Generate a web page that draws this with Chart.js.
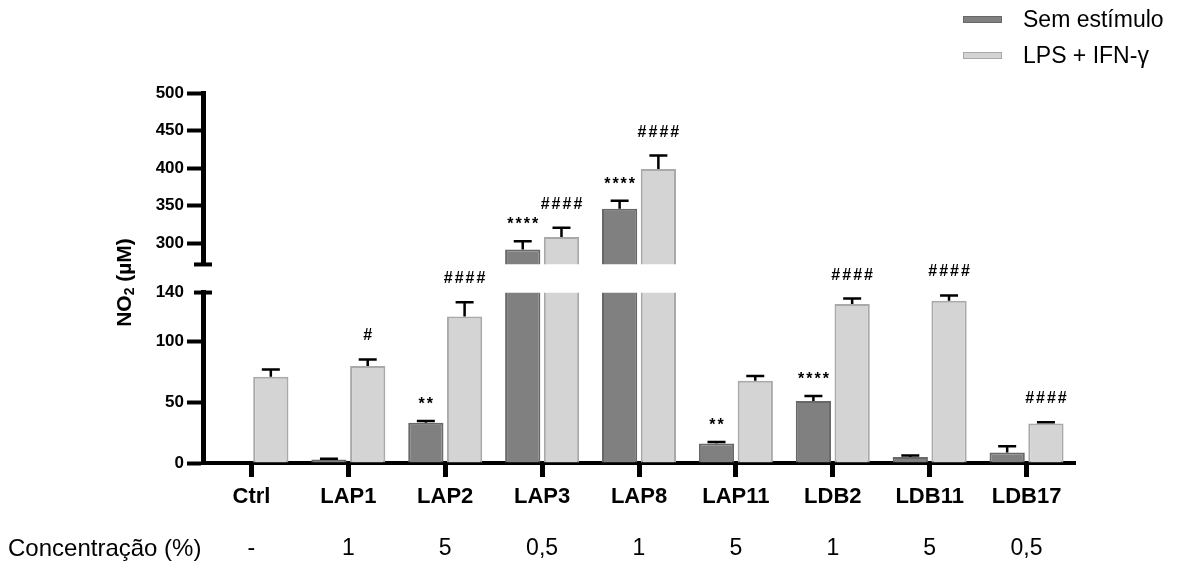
<!DOCTYPE html>
<html>
<head>
<meta charset="utf-8">
<script src="https://cdn.jsdelivr.net/npm/chart.js@4.4.0/dist/chart.umd.min.js"></script>
<style>
  html, body { margin: 0; padding: 0; background: #fff; }
  #wrap { position: relative; width: 1179px; height: 561px; }
  #legend { position: absolute; left: 963px; top: 1px; font-family: 'Liberation Sans', Arial, sans-serif; font-size: 23px; color: #000; }
  .item { display: flex; align-items: center; height: 36px; }
  .swatch { width: 37px; height: 5px; margin-right: 21px; border: 1px solid; }
</style>
</head>
<body>
<div id="wrap">
  <canvas id="chart" width="1179" height="561"></canvas>
  <div id="legend"></div>
</div>
<script>
// Data
const categories = ['Ctrl', 'LAP1', 'LAP2', 'LAP3', 'LAP8', 'LAP11', 'LDB2', 'LDB11', 'LDB17'];
const concentrations = ['-', '1', '5', '0,5', '1', '5', '1', '5', '0,5'];
const seriesNames = ['Sem estímulo', 'LPS + IFN-γ'];
const semEstimulo = [0, 2.8, 33, 292, 346, 16, 51, 5, 8.6];
const semEstimuloErr = [0, 0.7, 1.5, 11, 10.7, 1.3, 4, 1.1, 5.2];
const lpsIfn = [70.8, 79.6, 120.3, 308.4, 399, 67.5, 130.5, 133.2, 32.4];
const lpsIfnErr = [6, 5.5, 11.8, 12.4, 17.8, 3.9, 4.6, 4.4, 1.1];
const semEstimuloSig = ['', '', '**', '****', '****', '**', '****', '', ''];
const lpsIfnSig = ['', '#', '####', '####', '####', '', '####', '####', '####'];
const lowerTicks = [0, 50, 100, 140];
const upperTicks = [300, 350, 400, 450, 500];
const lowerRange = [0, 140];
const upperRange = [272, 500];
const rowTitle = 'Concentração (%)';

const FONT = "'Liberation Sans', Arial, sans-serif";
const AXIS_W = 80;
const seriesValues = [semEstimulo, lpsIfn];
const seriesErrors = [semEstimuloErr, lpsIfnErr];
const seriesSig = [semEstimuloSig, lpsIfnSig];
const barColors = [
    { backgroundColor: '#808080', borderColor: '#686868' },
    { backgroundColor: '#d4d4d4', borderColor: '#a9a9a9' }
];

// HTML legend
const legendEl = document.getElementById('legend');
seriesNames.forEach((name, s) => {
    const item = document.createElement('div');
    item.className = 'item';
    const sw = document.createElement('span');
    sw.className = 'swatch';
    sw.style.background = barColors[s].backgroundColor;
    sw.style.borderColor = barColors[s].borderColor;
    const txt = document.createElement('span');
    txt.textContent = name;
    item.appendChild(sw);
    item.appendChild(txt);
    legendEl.appendChild(item);
});

// same data drawn on both segments of the broken axis
const datasets = [];
['yLower', 'yUpper'].forEach(axis => {
    seriesValues.forEach((vals, s) => {
        datasets.push({
            label: seriesNames[s],
            data: vals,
            yAxisID: axis,
            stack: 'series' + s,
            backgroundColor: barColors[s].backgroundColor,
            borderColor: barColors[s].borderColor,
            borderWidth: 2,
            categoryPercentage: 0.8,
            barPercentage: 0.91
        });
    });
});

// keep each dataset inside its own axis segment
const segmentClip = {
    id: 'segmentClip',
    beforeDatasetDraw(chart, args) {
        const y = chart.scales[args.meta.yAxisID];
        const a = chart.chartArea;
        chart.ctx.save();
        chart.ctx.beginPath();
        chart.ctx.rect(a.left, y.top, a.right - a.left, y.bottom - y.top);
        chart.ctx.clip();
    },
    afterDatasetDraw(chart) {
        chart.ctx.restore();
    }
};

// error bars + significance marks
const errorBars = {
    id: 'errorBars',
    afterDatasetsDraw(chart) {
        const ctx = chart.ctx;
        const lower = chart.scales.yLower;
        const upper = chart.scales.yUpper;
        ctx.save();
        ctx.strokeStyle = '#000';
        ctx.fillStyle = '#000';
        ctx.lineWidth = 2.5;
        ctx.textAlign = 'center';
        ctx.font = 'bold 16px ' + FONT;
        ctx.letterSpacing = '2px';
        seriesValues.forEach((vals, s) => {
            const meta = chart.getDatasetMeta(s);
            vals.forEach((v, i) => {
                const err = seriesErrors[s][i];
                const scale = v >= upperRange[0] ? upper : lower;
                const x = meta.data[i].x;
                const y0 = scale.getPixelForValue(v);
                const y1 = scale.getPixelForValue(v + err);
                if (err > 0) {
                    ctx.beginPath();
                    ctx.moveTo(x, y0);
                    ctx.lineTo(x, y1);
                    ctx.moveTo(x - 9, y1);
                    ctx.lineTo(x + 9, y1);
                    ctx.stroke();
                }
                const sig = seriesSig[s][i];
                if (sig) {
                    const off = sig[0] === '#' ? 19 : 12;
                    ctx.fillText(sig, x + 1, y1 - off);
                }
            });
        });
        ctx.restore();
    }
};

// axis break caps, y title, row title
const decorations = {
    id: 'decorations',
    afterDraw(chart) {
        const { ctx, chartArea, scales } = chart;
        const ax = chartArea.left;
        ctx.save();
        ctx.fillStyle = '#000';
        ctx.fillRect(ax - 9, scales.yUpper.bottom - 2, 18, 4);
        ctx.fillRect(ax - 9, scales.yLower.top - 2, 18, 4);

        // NO2 (µM)
        ctx.translate(125, (scales.yUpper.bottom + scales.yLower.top) / 2 + 4);
        ctx.rotate(-Math.PI / 2);
        ctx.textBaseline = 'middle';
        ctx.textAlign = 'left';
        const big = 'bold 21px ' + FONT;
        const small = 'bold 14px ' + FONT;
        ctx.font = big;
        const w1 = ctx.measureText('NO').width;
        const w3 = ctx.measureText(' (µM)').width;
        ctx.font = small;
        const w2 = ctx.measureText('2').width;
        let xx = -(w1 + w2 + w3) / 2;
        ctx.font = big;
        ctx.fillText('NO', xx, 0);
        xx += w1;
        ctx.font = small;
        ctx.fillText('2', xx, 5);
        xx += w2;
        ctx.font = big;
        ctx.fillText(' (µM)', xx, 0);
        ctx.restore();

        ctx.save();
        ctx.fillStyle = '#000';
        ctx.font = '24px ' + FONT;
        ctx.textBaseline = 'middle';
        ctx.textAlign = 'left';
        ctx.fillText(rowTitle, 8, scales.x2.top + 12 + 14);
        ctx.restore();
    }
};

const yCommon = {
    type: 'linear',
    position: 'left',
    stack: 'ybreak',
    stacked: false,
    afterFit: s => { s.width = AXIS_W; },
    border: { color: '#000', width: 5 },
    ticks: { font: { size: 17, weight: 'bold' }, color: '#000', padding: 3 },
    z: 1
};

const createChart = () => {
    const ctx = document.getElementById('chart').getContext('2d');
    Chart.defaults.font.family = FONT;
    return new Chart(ctx, {
        type: 'bar',
        data: { labels: categories, datasets: datasets },
        plugins: [segmentClip, errorBars, decorations],
        options: {
            responsive: false,
            animation: false,
            layout: { padding: { left: 203 - AXIS_W, right: 104, top: 93, bottom: 0 } },
            plugins: { legend: { display: false }, tooltip: { enabled: false } },
            scales: {
                x: {
                    type: 'category',
                    position: 'bottom',
                    offset: true,
                    grid: { offset: false, drawOnChartArea: false, tickLength: 14, tickWidth: 5, tickColor: '#000' },
                    border: { color: '#000', width: 4 },
                    ticks: { font: { size: 22, weight: 'bold' }, color: '#000', padding: 7 },
                    afterFit: s => { s.height = 60; },
                    z: 1
                },
                x2: {
                    type: 'category',
                    labels: concentrations,
                    position: 'bottom',
                    offset: true,
                    grid: { display: false, drawTicks: false },
                    border: { display: false },
                    ticks: { font: { size: 23 }, color: '#000', padding: 12 },
                    afterFit: s => { s.height = 38; }
                },
                yLower: {
                    ...yCommon,
                    stackWeight: 170,
                    min: lowerRange[0],
                    max: lowerRange[1],
                    afterBuildTicks: s => { s.ticks = lowerTicks.map(v => ({ value: v })); },
                    grid: {
                        drawOnChartArea: false, tickLength: 16, tickWidth: 4,
                        tickColor: c => (c.tick && c.tick.value === lowerRange[1]) ? 'rgba(0,0,0,0)' : '#000'
                    }
                },
                yGap: {
                    type: 'linear',
                    position: 'left',
                    stack: 'ybreak',
                    stackWeight: 28,
                    afterFit: s => { s.width = AXIS_W; },
                    grid: { display: false },
                    border: { display: false },
                    ticks: { display: false }
                },
                yUpper: {
                    ...yCommon,
                    stackWeight: 171,
                    min: upperRange[0],
                    max: upperRange[1],
                    afterBuildTicks: s => { s.ticks = upperTicks.map(v => ({ value: v })); },
                    grid: { drawOnChartArea: false, tickLength: 16, tickWidth: 4, tickColor: '#000' }
                }
            }
        }
    });
};

const chart = createChart();
</script>
</body>
</html>
